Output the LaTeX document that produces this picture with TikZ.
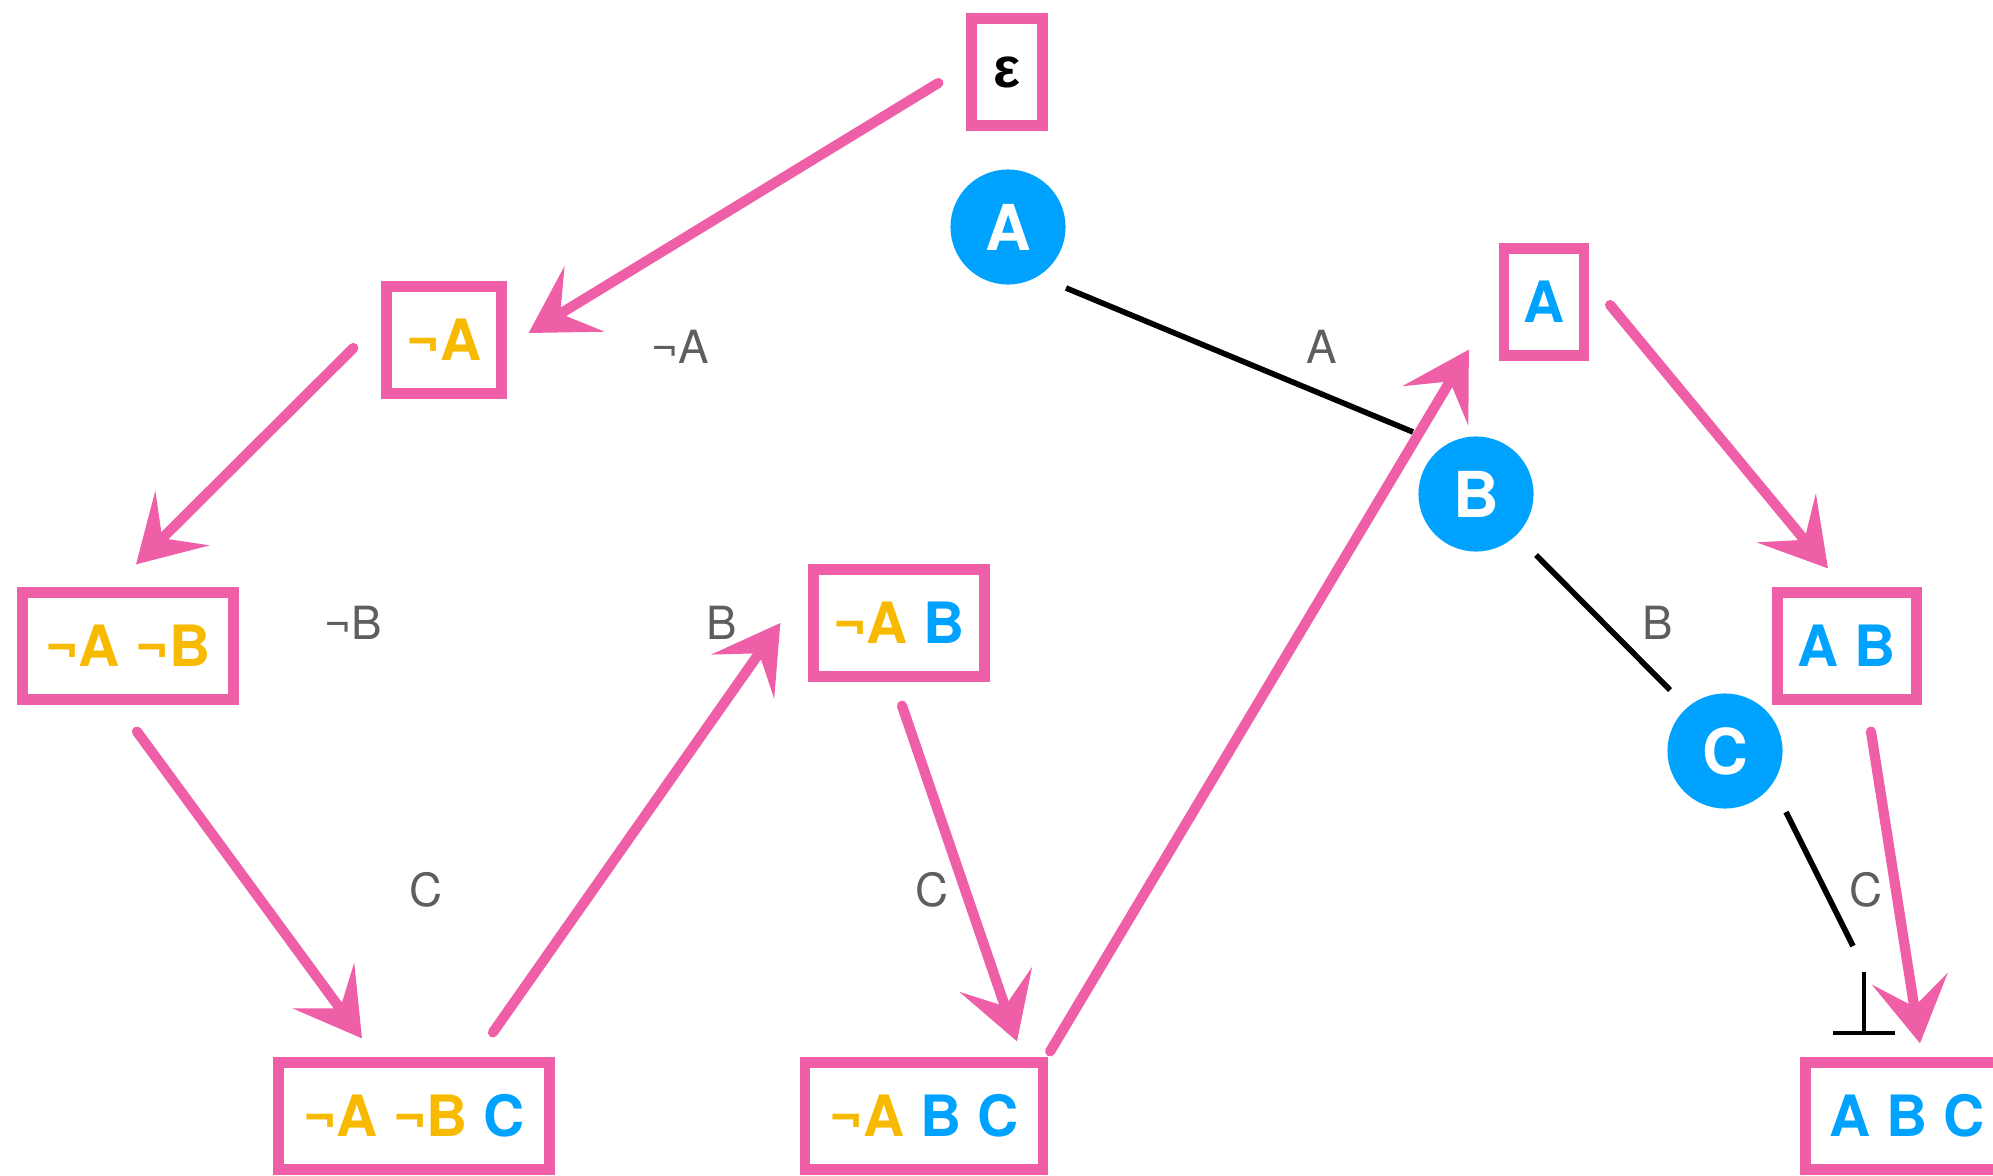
\documentclass[tikz,border=0pt]{standalone}
\usepackage{fontspec}
\setmainfont{TeX Gyre Heros}
\newfontfamily\greekfont{Liberation Sans}
\usetikzlibrary{calc,arrows.meta}

\definecolor{chalkpink}{RGB}{239,95,167}
\definecolor{litblue}{RGB}{0,162,255}
\definecolor{lityellow}{RGB}{248,186,0}
\definecolor{labelgray}{RGB}{94,94,94}

\newcommand{\litp}[1]{\textcolor{litblue}{#1}}
\newcommand{\litn}[1]{\textcolor{lityellow}{¬#1}}

\tikzset{
	chalk/.style={draw=chalkpink, line width=2.9pt},
	cell/.style={chalk, minimum height=1.07cm, inner sep=0pt,
		font=\fontsize{16.2pt}{19pt}\selectfont\bfseries},
	push/.style={chalk, line cap=round,
		-{Stealth[length=6.5mm, width=7.6mm, inset=2.8mm]}},
	var/.style={circle, fill=litblue, minimum size=1.15cm, inner sep=0pt, text=white,
		font=\fontsize{18pt}{21pt}\selectfont\bfseries},
	branch/.style={line width=1.6pt},
	edgelbl/.style={text=labelgray, font=\fontsize{13pt}{15pt}\selectfont}
}

\begin{document}
\begin{tikzpicture}[x=0.01cm, y=-0.01cm]
	\useasboundingbox (0,0) rectangle (1993,1176);
	
	% Stati
	\node[cell, minimum width=0.71cm] (eps) at (1007,72) {\greekfont ε};
	\node[cell, minimum width=1.15cm] (nA) at (444,340) {\litn{A}};
	\node[cell, minimum width=2.11cm] (nAnB) at (128,646) {\litn{A} \litn{B}};
	\node[cell, minimum width=2.71cm] (nAnBC) at (414,1116) {\litn{A} \litn{B} \litp{C}};
	\node[cell, minimum width=1.71cm] (nAB) at (899,623) {\litn{A} \litp{B}};
	\node[cell, minimum width=2.38cm] (nABC) at (924,1116) {\litn{A} \litp{B} \litp{C}};
	\node[cell, minimum width=0.80cm] (A) at (1544,302) {\litp{A}};
	\node[cell, minimum width=1.39cm] (AB) at (1847,646) {\litp{A} \litp{B}};
	\node[cell, minimum width=2.03cm] (ABC) at (1907,1116) {\litp{A} \litp{B} \litp{C}};
	
	% Etichette dei rami
	\node[edgelbl] (lblnA) at (680,347) {¬A};
	\node[edgelbl] (lblnB) at (353,623) {¬B};
	\node[edgelbl] (lblC1) at (426,890) {C};
	\node[edgelbl] (lblB1) at (722,623) {B};
	\node[edgelbl] (lblC2) at (932,890) {C};
	\node[edgelbl] (lblA) at (1322,347) {A};
	\node[edgelbl] (lblB2) at (1658,623) {B};
	\node[edgelbl] (lblC3) at (1866,890) {C};
	
	% Variabili
	\node[var] (cA) at (1008,227) {A};
	\node[var] (cB) at (1476,494) {B};
	\node[var] (cC) at (1725,751) {C};
	\coordinate (bot) at (1864,1033);
	
	% Rami
	\draw[branch] ($(cA)+(58,61)$) -- ($(cB)+(-63,-62)$);
	\draw[branch] ($(cB)+(60,61)$) -- ($(cC)+(-55,-61)$);
	\draw[branch] ($(cC)+(61,61)$) -- ($(bot)+(-11,-87)$);
	\draw[line width=1.1pt] ($(bot)+(0,-61)$) -- (bot);
	\draw[line width=1.1pt] ($(bot)+(-31,0)$) -- ($(bot)+(31,0)$);
	
	% Frecce
	\draw[push] ($(eps.west)+(-28,11)$) -- ($(nA.east)+(22,-7)$);
	\draw[push] ($(nA.west)+(-28,8)$) -- ($(nAnB.north)+(8,-23)$);
	\draw[push] ($(nAnB.south)+(9,27)$) -- ($(nAnBC.north)+(-52,-19)$);
	\draw[push] ($(nAnBC.north)+(79,-25)$) -- ($(nAB.west)+(-28,0)$);
	\draw[push] ($(nAB.south)+(3,24)$) -- ($(nABC.north)+(93,-16)$);
	\draw[push] ($(nABC.north east)+(2,-6)$) -- ($(A.south west)+(-30,-11)$);
	\draw[push] ($(A.east)+(21,3)$) -- ($(AB.north)+(-19,-19)$);
	\draw[push] ($(AB.south)+(24,27)$) -- ($(ABC.north)+(13,-14)$);
\end{tikzpicture}
\end{document}
